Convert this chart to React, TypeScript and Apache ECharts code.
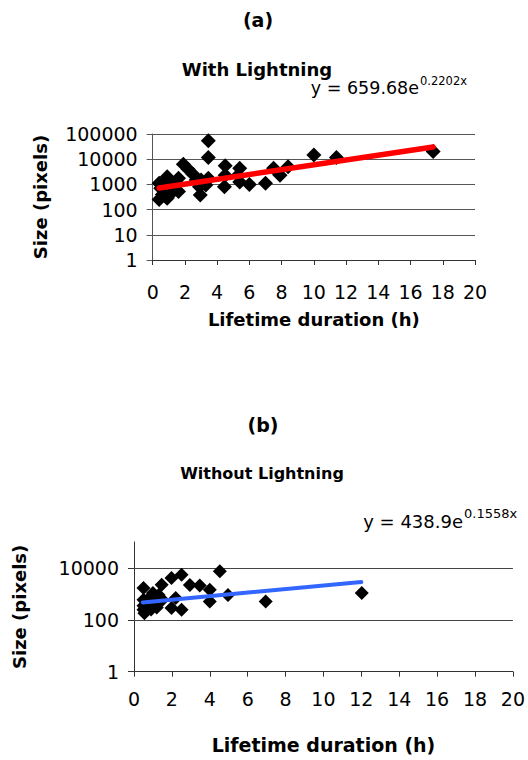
import React, { useEffect, useRef } from "react";
import * as echarts from "echarts";

const FONT = "'DejaVu Sans', Verdana, sans-serif";

// ---- data ----
const panelLabels = ["(a)", "(b)"];
const panelTitles = ["With Lightning", "Without Lightning"];
const eqMain = ["y = 659.68e", "y = 438.9e"];
const eqExp = ["0.2202x", "0.1558x"];
const xTitle = "Lifetime duration (h)";
const yTitle = "Size (pixels)";

const yLabelsA = [1, 10, 100, 1000, 10000, 100000];
const yLabelsB = [1, 100, 10000];
const gridLinesB = [100, 10000];

// [lifetime (h), size (pixels)]
const withLightning: [number, number][] = [
  [0.4, 1100], [0.4, 250], [0.5, 700], [0.6, 400], [0.8, 330], [0.9, 2000],
  [0.9, 280], [1.0, 1500], [1.1, 420], [1.3, 700], [1.5, 1100], [1.6, 1750],
  [1.6, 520], [1.9, 6300], [2.2, 4000], [2.5, 2500], [2.7, 1500], [2.9, 800],
  [2.95, 380], [3.0, 1500], [3.3, 950], [3.45, 1750], [3.45, 54000], [3.45, 11800],
  [4.5, 5500], [4.5, 2300], [4.45, 810], [5.4, 4400], [5.3, 2300], [5.4, 1250],
  [6.0, 1000], [7.0, 1100], [7.5, 4400], [7.9, 2300], [8.4, 5000], [10.0, 14700],
  [11.4, 11800], [17.4, 20000],
];

const withoutLightning: [number, number][] = [
  [0.5, 1700], [0.5, 590], [0.5, 245], [0.55, 180], [0.6, 400], [0.5, 350],
  [0.8, 690], [0.9, 250], [1.0, 1080], [1.1, 445], [1.2, 300], [1.3, 900],
  [1.46, 2250], [1.5, 600], [1.98, 4100], [1.98, 285], [2.2, 700], [2.51, 5500],
  [2.51, 245], [2.95, 2200], [3.47, 2100], [4.0, 1450], [4.0, 510], [4.53, 7400],
  [4.96, 900], [6.95, 510], [12.02, 1080],
];

// exponential trend lines (straight on log axis): end points
const trendWith: [number, number][] = [[0.4, 720], [17.4, 30500]];
const trendWithout: [number, number][] = [[0.46, 470], [12.0, 2850]];

const fmtInt = (v: number) => String(Math.round(v));

export default function App() {
  const ref = useRef<HTMLDivElement>(null);

  useEffect(() => {
    if (!ref.current) return;
    const chart = echarts.init(ref.current, undefined, { renderer: "svg" });

    const xAxisBase = (gridIndex: number, labelMargin: number, nameGap: number, nameSize: number) => ({
      type: "value",
      gridIndex,
      min: 0,
      max: 20,
      interval: 2,
      axisLine: { show: true, onZero: false, lineStyle: { color: "#333", width: 1 } },
      axisTick: { show: true, length: 5, lineStyle: { color: "#333" } },
      axisLabel: { color: "#000", fontSize: 19, fontFamily: FONT, margin: labelMargin },
      splitLine: { show: false },
      name: xTitle,
      nameLocation: "middle",
      nameGap,
      nameTextStyle: { color: "#000", fontSize: nameSize, fontWeight: "bold", fontFamily: FONT },
    });

    const textStyle = (text: string, fontSize: number, bold: boolean, align: string) => ({
      text,
      fontSize,
      fontWeight: bold ? "bold" : "normal",
      fontFamily: FONT,
      fill: "#000",
      textAlign: align,
      textVerticalAlign: "middle",
      align,
      verticalAlign: "middle",
    });

    const option: any = {
      animation: false,
      backgroundColor: "#fff",
      grid: [
        { left: 152.7, top: 134, width: 322.3, height: 126 },
        { left: 134, top: 542, width: 380, height: 129.7 },
      ],
      xAxis: [xAxisBase(0, 22, 50, 18), xAxisBase(1, 18, 64, 19)],
      yAxis: [
        {
          type: "log",
          logBase: 10,
          gridIndex: 0,
          min: yLabelsA[0],
          max: yLabelsA[yLabelsA.length - 1],
          axisLine: { show: true, lineStyle: { color: "#555", width: 1 } },
          axisTick: { show: true, length: 6, lineStyle: { color: "#555" } },
          axisLabel: {
            color: "#000", fontSize: 19, fontFamily: FONT, margin: 15,
            formatter: (v: number) => (yLabelsA.includes(Math.round(v)) ? fmtInt(v) : ""),
          },
          splitLine: { show: true, lineStyle: { color: "#555", width: 1 } },
          name: yTitle,
          nameLocation: "middle",
          nameGap: 103,
          nameTextStyle: { color: "#000", fontSize: 18, fontWeight: "bold", fontFamily: FONT },
        },
        {
          type: "log",
          logBase: 100,
          gridIndex: 1,
          min: 1,
          max: 100000,
          axisLine: { show: true, lineStyle: { color: "#333", width: 1 } },
          axisTick: { show: true, length: 6, lineStyle: { color: "#333" } },
          axisLabel: {
            color: "#000", fontSize: 19, fontFamily: FONT, margin: 15,
            showMaxLabel: false,
            formatter: (v: number) => (yLabelsB.includes(Math.round(v)) ? fmtInt(v) : ""),
          },
          splitLine: { show: false },
          name: yTitle,
          nameLocation: "middle",
          nameGap: 106,
          nameTextStyle: { color: "#000", fontSize: 18, fontWeight: "bold", fontFamily: FONT },
        },
      ],
      series: [
        {
          type: "scatter",
          xAxisIndex: 0,
          yAxisIndex: 0,
          symbol: "diamond",
          symbolSize: 15,
          itemStyle: { color: "#000", opacity: 1 },
          emphasis: { disabled: true },
          data: withLightning,
          z: 2,
        },
        {
          type: "line",
          xAxisIndex: 0,
          yAxisIndex: 0,
          showSymbol: false,
          symbol: "none",
          lineStyle: { color: "#ff0000", width: 5.5, cap: "round" },
          data: trendWith,
          z: 3,
        },
        {
          type: "scatter",
          xAxisIndex: 1,
          yAxisIndex: 1,
          symbol: "diamond",
          symbolSize: 14,
          itemStyle: { color: "#000", opacity: 1 },
          emphasis: { disabled: true },
          data: withoutLightning,
          z: 2,
          markLine: {
            silent: true,
            symbol: "none",
            z: 1,
            label: { show: false },
            lineStyle: { color: "#444", type: "solid", width: 1 },
            data: gridLinesB.map((v) => ({ yAxis: v })),
          },
        },
        {
          type: "line",
          xAxisIndex: 1,
          yAxisIndex: 1,
          showSymbol: false,
          symbol: "none",
          lineStyle: { color: "#3366ff", width: 4, cap: "round" },
          data: trendWithout,
          z: 3,
        },
      ],
      graphic: [
        { type: "text", x: 258, y: 20, style: textStyle(panelLabels[0], 19, true, "center") },
        { type: "text", x: 257, y: 69, style: textStyle(panelTitles[0], 18, true, "center") },
        { type: "text", x: 419, y: 88, style: textStyle(eqMain[0], 17.5, false, "right") },
        { type: "text", x: 420, y: 81, style: textStyle(eqExp[0], 11.5, false, "left") },
        { type: "text", x: 263, y: 425, style: textStyle(panelLabels[1], 19, true, "center") },
        { type: "text", x: 262, y: 473, style: textStyle(panelTitles[1], 16, true, "center") },
        { type: "text", x: 463, y: 521, style: textStyle(eqMain[1], 18, false, "right") },
        { type: "text", x: 464, y: 513, style: textStyle(eqExp[1], 13, false, "left") },
      ],
    };

    chart.setOption(option);
    return () => chart.dispose();
  }, []);

  return (
    <div
      ref={ref}
      style={{ position: "fixed", left: 0, top: 0, width: 528, height: 760, background: "#fff" }}
    />
  );
}
